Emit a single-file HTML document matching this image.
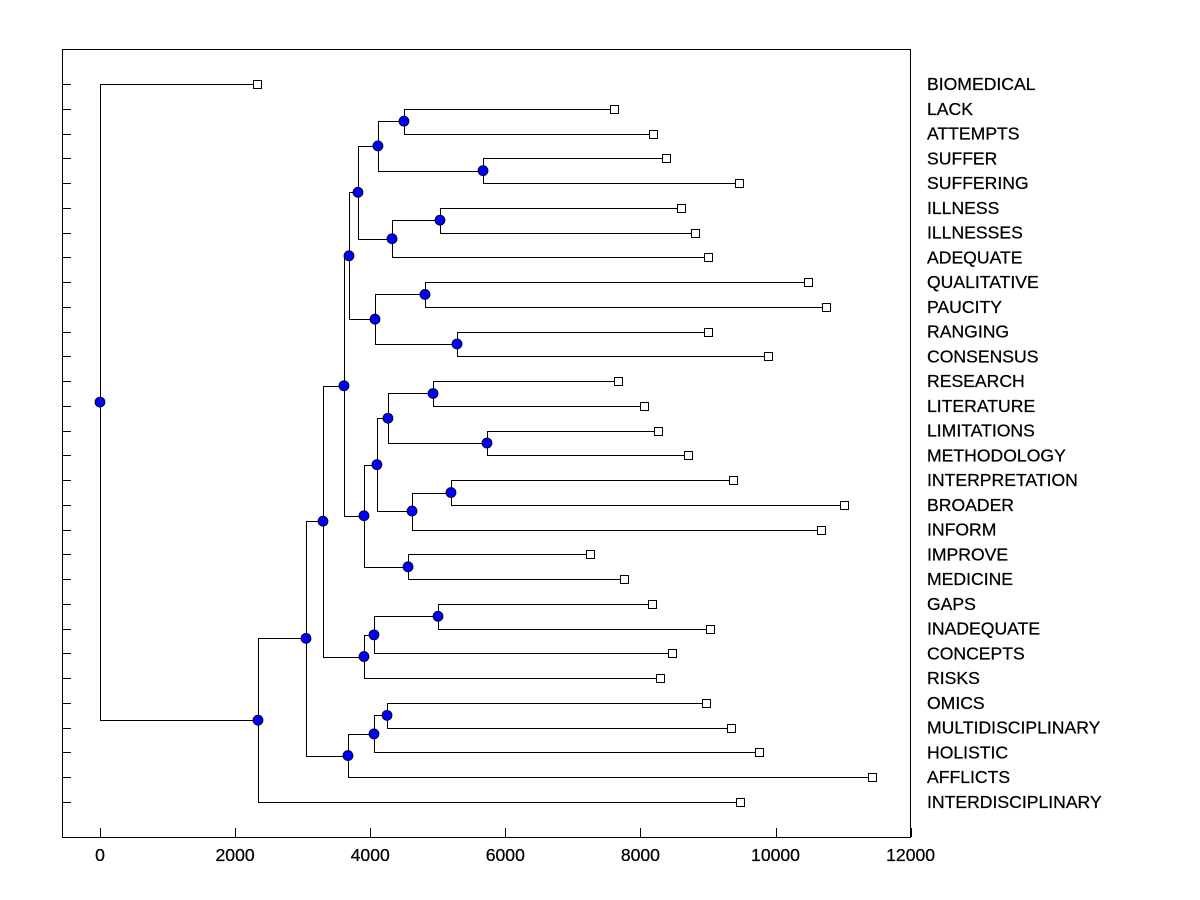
<!DOCTYPE html>
<html><head><meta charset="utf-8"><style>
body{margin:0;background:#fff;width:1200px;height:900px;overflow:hidden}
svg{display:block}
text{font-family:"Liberation Sans",Arial,sans-serif;font-size:17.6px;fill:#000;stroke:#000;stroke-width:0.25px}
</style></head><body>
<svg id="chart" width="1200" height="900"></svg>
<script>
const leafLabels=["BIOMEDICAL","LACK","ATTEMPTS","SUFFER","SUFFERING","ILLNESS","ILLNESSES","ADEQUATE","QUALITATIVE","PAUCITY","RANGING","CONSENSUS","RESEARCH","LITERATURE","LIMITATIONS","METHODOLOGY","INTERPRETATION","BROADER","INFORM","IMPROVE","MEDICINE","GAPS","INADEQUATE","CONCEPTS","RISKS","OMICS","MULTIDISCIPLINARY","HOLISTIC","AFFLICTS","INTERDISCIPLINARY"];
const leafValues=[2324,7609,8187,8379,9460,8601,8808,9001,10481,10748,9001,9889,7668,8053,8260,8705,9371,11014,10674,7254,7757,8172,9030,8468,8290,8971,9341,9756,11429,9475];
const mergeNames=["A","B","C","D","E","F","G","H","I","J","K","L","M","N","O","P","Q","R","S","T","U","V","W","X","Y","Z","AA","AB","ROOT"];
const mergeLeft=["LACK","SUFFER","A","ILLNESS","D","C","QUALITATIVE","RANGING","G","F","RESEARCH","LIMITATIONS","K","INTERPRETATION","N","M","IMPROVE","P","J","GAPS","T","U","S","OMICS","X","Y","W","AA","BIOMEDICAL"];
const mergeRight=["ATTEMPTS","SUFFERING","B","ILLNESSES","ADEQUATE","E","PAUCITY","CONSENSUS","H","I","LITERATURE","METHODOLOGY","L","BROADER","INFORM","O","MEDICINE","Q","R","INADEQUATE","CONCEPTS","RISKS","V","MULTIDISCIPLINARY","HOLISTIC","AFFLICTS","Z","INTERDISCIPLINARY","AB"];
const mergeHeights=[4500,5670,4115,5033,4323,3819,4811,5285,4071,3686,4930,5729,4263,5196,4619,4100,4560,3908,3612,5004,4056,3908,3301,4249,4056,3671,3050,2339,0];
const xTicks=[0,2000,4000,6000,8000,10000,12000];

const svg=document.getElementById('chart');
const NS='http://www.w3.org/2000/svg';
const L=62,R=910,T=49,B=837;
const X=v=>100+v*(810.6/12000);
const row0=84,rowStep=(802-84)/29;
const Y=i=>row0+i*rowStep;
function mk(tag,attrs,parent){const e=document.createElementNS(NS,tag);for(const k in attrs)e.setAttribute(k,attrs[k]);(parent||svg).appendChild(e);return e;}

const frame=mk('rect',{x:L+0.5,y:T+0.5,width:R-L,height:B-T,fill:'none',stroke:'#000','stroke-width':1});



xTicks.forEach(t=>{
  const x=Math.round(X(t))+0.5;
  const tk=mk('line',{x1:x,x2:x,y1:B,y2:B-9,stroke:'#000'});
  
  
  const tl=mk('text',{x:X(t),y:861,'text-anchor':'middle'});
  tl.textContent=t;
  
  
});

const pos={};
leafLabels.forEach((lab,i)=>{
  pos[lab]={x:X(leafValues[i]),y:Y(i)};
  const y=Math.round(Y(i))+0.5;
  const tk=mk('line',{x1:L,x2:L+9,y1:y,y2:y,stroke:'#000'});
  
  
  const tl=mk('text',{x:927,y:Y(i)+6});
  tl.textContent=lab;
  
  
});

const lines=mk('g',{stroke:'#000','stroke-width':1,fill:'none'});


const nodesG=mk('g',{});



mergeNames.forEach((n,i)=>{
  const a=pos[mergeLeft[i]],b=pos[mergeRight[i]];
  const x=X(mergeHeights[i]);
  const xs=Math.round(x)+0.5;
  const ya=Math.round(a.y)+0.5,yb=Math.round(b.y)+0.5;
  const p=mk('path',{d:`M${Math.round(a.x)} ${ya}H${xs}V${yb}H${Math.round(b.x)}`},lines);
  
  
  pos[n]={x:x,y:(a.y+b.y)/2};
});
mergeNames.forEach((n,i)=>{
  const c=mk('circle',{cx:pos[n].x,cy:pos[n].y,r:5,fill:'#0000ff',stroke:'#000','stroke-width':0.8},nodesG);
  
  
});
leafLabels.forEach(lab=>{
  const p=pos[lab];
  const s=mk('rect',{x:Math.round(p.x)-3.5,y:Math.round(p.y)-3.5,width:8,height:8,fill:'#fff',stroke:'#000'});
  
  
});
</script>
</body></html>
